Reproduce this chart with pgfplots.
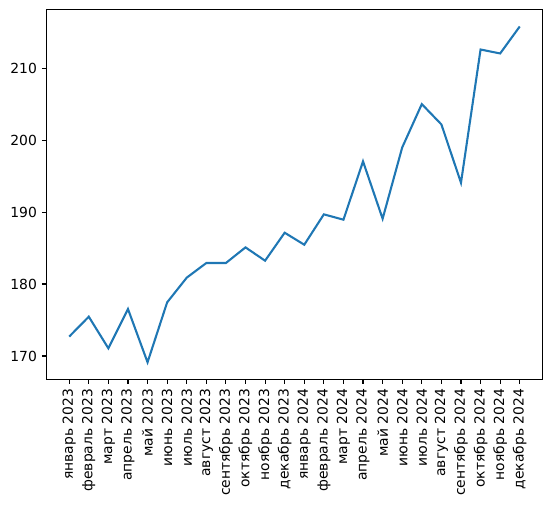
\documentclass[border=0pt]{standalone}
\usepackage{pgfplots}
\pgfplotsset{compat=1.18}
\usepackage{fontspec}
\setmainfont{DejaVu Sans}
\definecolor{mplblue}{HTML}{1F77B4}

\pgfplotstableread{
x y
0 172.69
1 175.46
2 171.06
3 176.53
4 169.12
5 177.45
6 180.88
7 182.92
8 182.92
9 185.09
10 183.24
11 187.13
12 185.46
13 189.68
14 188.94
15 197.04
16 189.07
17 198.98
18 205.00
19 202.18
20 194.07
21 212.59
22 212.04
23 215.79
}\prices

\begin{document}
\begin{tikzpicture}
\begin{axis}[
  scale only axis,
  width=356.8pt, height=265.9pt,
  xmin=-1.15, xmax=24.15,
  ymin=166.79, ymax=218.12,
  axis line style={line width=0.8pt},
  tick style={line width=0.8pt, black},
  major tick length=3.5pt,
  tick align=outside,
  xtick pos=bottom, ytick pos=left,
  xtick={0,...,23},
  xticklabels={январь 2023, февраль 2023, март 2023, апрель 2023, май 2023, июнь 2023, июль 2023, август 2023, сентябрь 2023, октябрь 2023, ноябрь 2023, декабрь 2023, январь 2024, февраль 2024, март 2024, апрель 2024, май 2024, июнь 2024, июль 2024, август 2024, сентябрь 2024, октябрь 2024, ноябрь 2024, декабрь 2024},
  x tick label style={rotate=90, anchor=east},
  ytick={170,180,...,210},
  tick label style={font=\fontsize{10}{12}\selectfont},
  /pgf/number format/assume math mode=true,
  /pgf/number format/1000 sep={},
]
\addplot[mplblue, line width=1.5pt, no marks] table[x=x, y=y] {\prices};
\end{axis}
\pgfresetboundingbox
\path (current axis.south west) ++(-33.6pt,-91.4pt) coordinate (bbA);
\path (current axis.north east) ++(7pt,7pt) coordinate (bbB);
\path (bbA) rectangle (bbB);
\end{tikzpicture}
\end{document}
